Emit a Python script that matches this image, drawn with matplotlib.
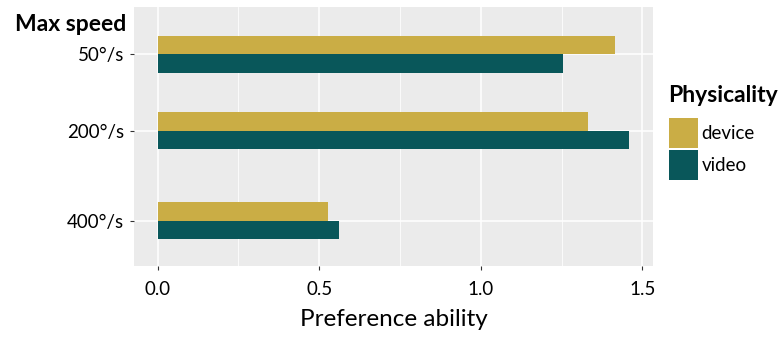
import matplotlib.pyplot as plt
import numpy as np

speeds = ["50°/s", "200°/s", "400°/s"]
speed_pos = [0.0, 1.0, 2.185]
groups = ["device", "video"]
device = [1.414, 1.333, 0.527]
video = [1.253, 1.460, 0.561]
colors = {"device": "#CAAD45", "video": "#09575A"}

plt.rcParams["font.family"] = ["Lato", "DejaVu Sans"]

fig = plt.figure(figsize=(7.82, 3.38), dpi=100)
ax = fig.add_axes([134 / 782, 72 / 338, 519 / 782, 259 / 338])
ax.set_facecolor("#EBEBEB")

bh = 0.243
y = np.array(speed_pos)
ax.barh(y - bh / 2, device, height=bh, color=colors["device"], label="device", zorder=3)
ax.barh(y + bh / 2, video, height=bh, color=colors["video"], label="video", zorder=3)

# ggplot-like 5% expansion
xmax = max(max(device), max(video))
ax.set_xlim(-0.05 * xmax, 1.05 * xmax)
ax.set_ylim(2.776, -0.623)

ax.set_xticks([0, 0.5, 1.0, 1.5])
ax.set_xticklabels(["0.0", "0.5", "1.0", "1.5"])
ax.set_xticks([0.25, 0.75, 1.25], minor=True)
ax.set_yticks(speed_pos)
ax.set_yticklabels(speeds)
ax.grid(True, which="major", color="white", linewidth=1.1, zorder=1)
ax.grid(True, which="minor", axis="x", color="white", linewidth=0.55, zorder=1)
ax.tick_params(which="major", length=3, width=0.8, color="#333333",
               labelsize=13.5, labelcolor="black")
ax.tick_params(axis="x", pad=8)
ax.tick_params(axis="y", pad=4)
ax.tick_params(which="minor", length=0)
for s in ax.spines.values():
    s.set_visible(False)

ax.set_xlabel("Preference ability", fontsize=17.5, labelpad=8)
fig.text(15 / 782, 1 - 31 / 338, "Max speed", fontsize=16.5, fontweight="bold",
         ha="left", va="baseline")

leg = ax.legend(loc="upper left", bbox_to_anchor=(661 / 782, 1 - 78 / 338),
                bbox_transform=fig.transFigure, frameon=False, fontsize=13.5,
                title="Physicality", handlelength=1.55, handleheight=2.1,
                labelspacing=0.1, handletextpad=0.2, borderaxespad=0,
                alignment="left")
leg.get_title().set_fontsize(16.5)
leg.get_title().set_fontweight("bold")
leg._legend_box.sep = 8  # more room under the legend title

fig.savefig("out.png", dpi=100)
